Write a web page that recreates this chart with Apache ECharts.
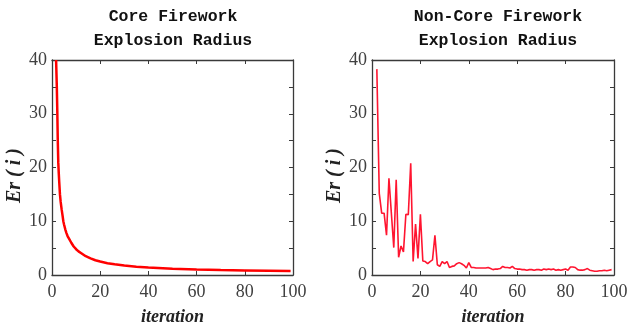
<!DOCTYPE html>
<html>
<head>
<meta charset="utf-8">
<script src="https://cdn.jsdelivr.net/npm/echarts@6/dist/echarts.min.js"></script>
<style>
  html, body { margin: 0; padding: 0; background: #fff; }
  #main { width: 627px; height: 327px; }
</style>
</head>
<body>
<div id="main"></div>
<script>
// core firework radius (iteration, radius)
const coreIter = [1.7, 2, 2.2, 2.4, 2.6, 2.8, 3, 3.3, 3.6, 4, 4.4, 4.7, 5, 5.5, 6, 6.5, 7, 8, 9, 10, 11, 12, 14, 16, 18, 20, 23, 26, 30, 35, 40, 50, 60, 70, 80, 90, 99]
const coreRadius = [40, 35, 30.4, 25, 21, 19, 17.3, 15, 13.6, 12.2, 11, 10, 9.4, 8.5, 7.8, 7.2, 6.8, 6.0, 5.3, 4.8, 4.4, 4.1, 3.5, 3.1, 2.75, 2.5, 2.2, 2.0, 1.75, 1.55, 1.4, 1.18, 1.03, 0.93, 0.86, 0.8, 0.75]

// non-core firework radius, iterations 2..99
const nonCoreStart = 2
const nonCoreRadius = [
  38.3, 15.2, 11.5, 11.5, 7.4, 18, 11.5, 5.1, 17.7, 3.3,
  5.4, 4.3, 11.3, 11.2, 20.8, 2.5, 9.5, 3.1, 11.3, 2.6,
  2.5, 2.1, 2.5, 2.8, 7.4, 1.9, 1.6, 2.5, 2.1, 2.5,
  1.4, 1.6, 1.7, 2.1, 2.3, 2.1, 1.8, 1.3, 2.3, 1.4,
  1.4, 1.3, 1.3, 1.3, 1.3, 1.3, 1.4, 1.2, 1.0, 1.1,
  1.1, 1.2, 1.6, 1.4, 1.4, 1.3, 1.6, 1.2, 1.1, 1.1,
  1.0, 1.0, 0.9, 1.0, 1.0, 0.9, 1.0, 1.0, 0.9, 1.1,
  1.0, 1.1, 1.0, 1.1, 0.9, 1.0, 0.9, 1.0, 1.1, 0.9,
  1.5, 1.5, 1.4, 1.0, 0.9, 0.9, 1.0, 1.2, 0.9, 0.8,
  0.7, 0.7, 0.8, 0.8, 0.9, 0.8, 0.9, 1.0
]

const xTicks = { min: 0, max: 100, interval: 20 }
const yTicks = { min: 0, max: 40, interval: 5, labelEvery: 10 }
const titles = ['Core Firework\nExplosion Radius', 'Non-Core Firework\nExplosion Radius']

const coreData = coreIter.map((x, i) => [x, coreRadius[i]])
const nonCoreData = nonCoreRadius.map((v, i) => [nonCoreStart + i, v])

const axisColor = '#3a3a3a'
const labelFont = {
  fontFamily: 'Liberation Serif', fontSize: 18, color: '#404040'
}

function xAxes (gridIndex) {
  const common = {
    gridIndex: gridIndex,
    type: 'value',
    min: xTicks.min, max: xTicks.max, interval: xTicks.interval,
    splitLine: { show: false },
    axisLine: { show: true, onZero: false, lineStyle: { color: axisColor, width: 1.3 } },
    axisTick: { show: true, inside: true, length: 4, lineStyle: { color: axisColor } }
  }
  return [
    Object.assign({}, common, {
      position: 'bottom',
      name: 'iteration',
      nameLocation: 'middle',
      nameGap: 33,
      nameTextStyle: { fontFamily: 'Liberation Serif', fontSize: 18, fontStyle: 'italic', fontWeight: 'bold', color: '#222' },
      axisLabel: Object.assign({ margin: 8 }, labelFont)
    }),
    Object.assign({}, common, { position: 'top', axisLabel: { show: false } })
  ]
}

function yAxes (gridIndex) {
  const common = {
    gridIndex: gridIndex,
    type: 'value',
    min: yTicks.min, max: yTicks.max, interval: yTicks.interval,
    splitLine: { show: false },
    axisLine: { show: true, onZero: false, lineStyle: { color: axisColor, width: 1.3 } },
    axisTick: { show: true, inside: true, length: 4, lineStyle: { color: axisColor } }
  }
  return [
    Object.assign({}, common, {
      position: 'left',
      name: 'Er ( i )',
      nameLocation: 'middle',
      nameGap: 24,
      nameTextStyle: { fontFamily: 'Liberation Serif', fontSize: 20, fontStyle: 'italic', fontWeight: 'bold', color: '#222', padding: [0, 0, 0, -16] },
      axisLabel: Object.assign({
        margin: 5,
        formatter: v => (v % yTicks.labelEvery === 0 ? String(v) : '')
      }, labelFont)
    }),
    Object.assign({}, common, { position: 'right', axisLabel: { show: false } })
  ]
}

const chart = echarts.init(document.getElementById('main'), null, { renderer: 'canvas' })

chart.setOption({
  backgroundColor: '#fff',
  animation: false,
  title: [
    { text: titles[0], left: 168, top: 0, textAlign: 'center',
      textStyle: { fontFamily: 'Liberation Mono', fontSize: 16.5, fontWeight: 'bold', color: '#111', lineHeight: 24 } },
    { text: titles[1], left: 493, top: 0, textAlign: 'center',
      textStyle: { fontFamily: 'Liberation Mono', fontSize: 16.5, fontWeight: 'bold', color: '#111', lineHeight: 24 } }
  ],
  grid: [
    { left: 52, top: 60, width: 241, height: 215, outerBoundsMode: 'none' },
    { left: 372, top: 60, width: 242, height: 215, outerBoundsMode: 'none' }
  ],
  xAxis: xAxes(0).concat(xAxes(1)),
  yAxis: yAxes(0).concat(yAxes(1)),
  series: [
    {
      name: 'core',
      type: 'line',
      xAxisIndex: 0,
      yAxisIndex: 0,
      smooth: false,
      showSymbol: false,
      lineStyle: { color: '#ff0000', width: 2.5 },
      data: coreData
    },
    {
      name: 'non-core',
      type: 'line',
      xAxisIndex: 2,
      yAxisIndex: 2,
      showSymbol: false,
      lineStyle: { color: '#ff1530', width: 1.6 },
      data: nonCoreData
    }
  ]
})
</script>
</body>
</html>
